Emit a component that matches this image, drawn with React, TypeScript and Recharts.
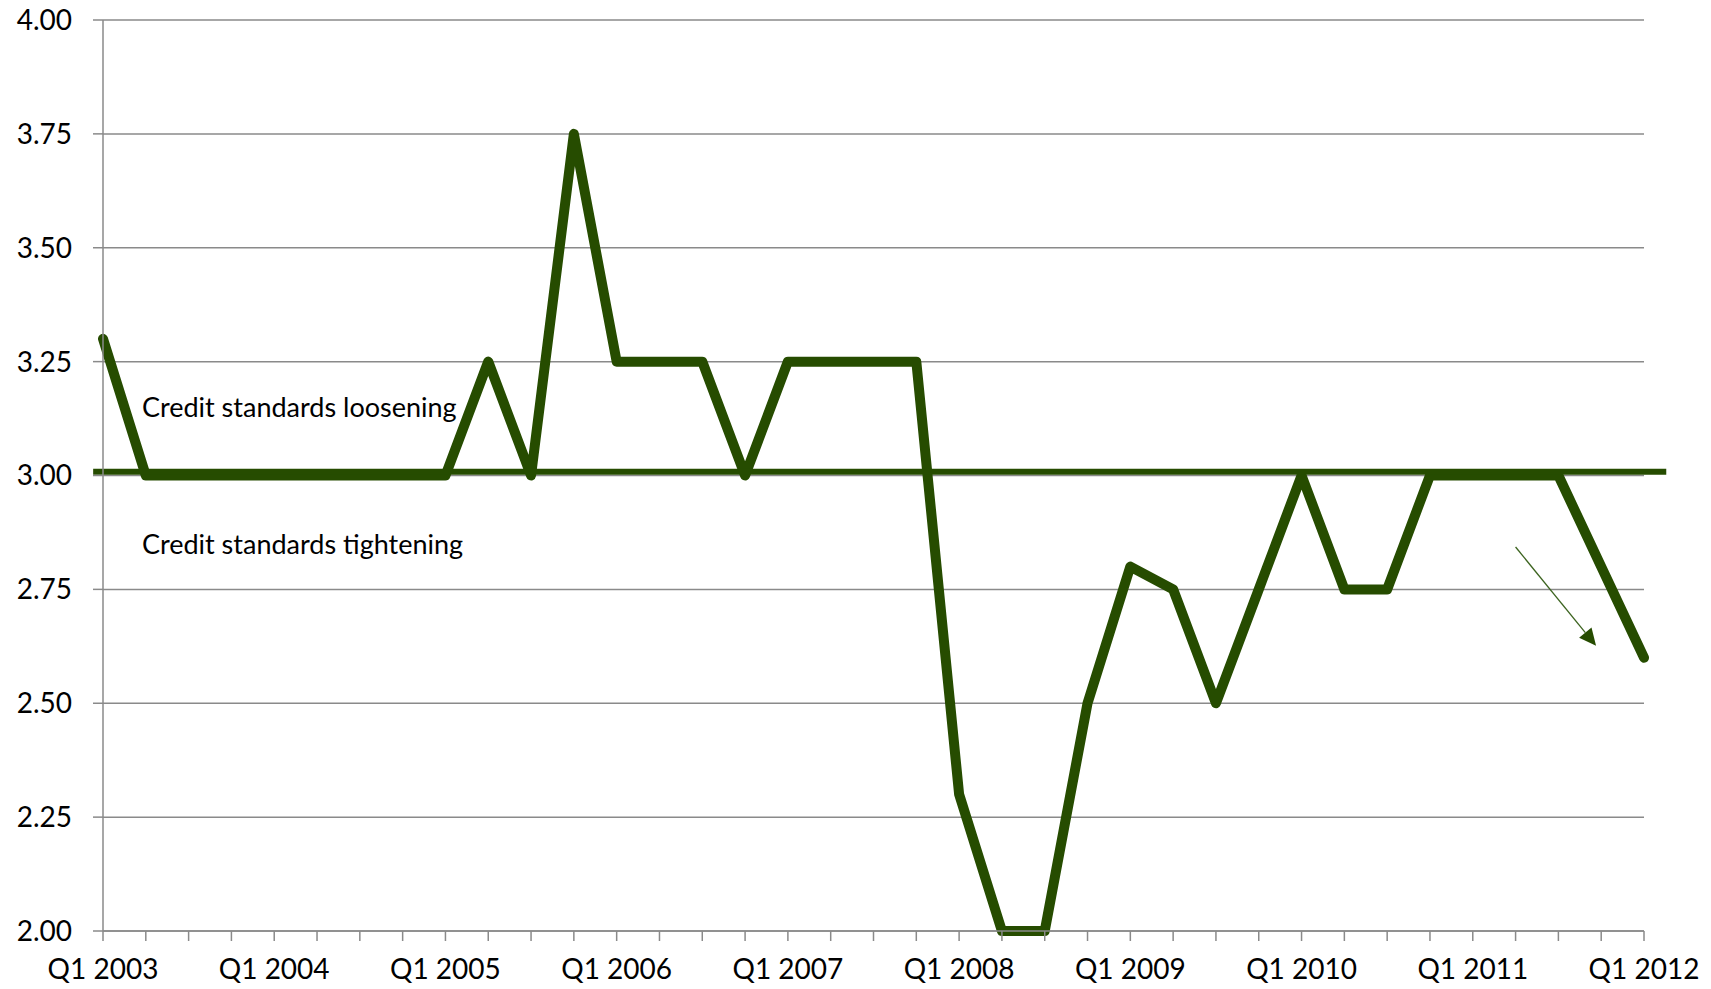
import { LineChart, Line, XAxis, YAxis, CartesianGrid, ReferenceLine, ReferenceDot } from "recharts";

const quarters: string[] = [];
for (let y = 2003; y <= 2012; y++) {
    for (let q = 1; q <= 4; q++) {
        if (y === 2012 && q > 1) break;
        quarters.push(`Q${q} ${y}`);
    }
}

const standards = [
    3.3, 3.0, 3.0, 3.0, 3.0, 3.0, 3.0, 3.0, 3.0, 3.25, 3.0, 3.75,
    3.25, 3.25, 3.25, 3.0, 3.25, 3.25, 3.25, 3.25, 2.3, 2.0, 2.0, 2.5,
    2.8, 2.75, 2.5, 2.75, 3.0, 2.75, 2.75, 3.0, 3.0, 3.0, 3.0, 2.8, 2.6,
];

const yTicks = [2.0, 2.25, 2.5, 2.75, 3.0, 3.25, 3.5, 3.75, 4.0];

const neutralLevel = 3.008;
const neutralSpan = [-0.23, 36.52];
const trendArrow = [
    { x: 33, y: 2.843 },
    { x: 34.88, y: 2.626 },
];
const notes = [
    { x: 0.91, y: 3.128, text: "Credit standards loosening" },
    { x: 0.91, y: 2.828, text: "Credit standards tightening" },
];

const data = quarters.map((q, i) => ({ idx: i, quarter: q, value: standards[i] }));

const GREEN = "#264c00";
const GREY = "#8a8a8a";
const FONT = "Lato, 'Open Sans', sans-serif";

const XTick = ({ x, y, payload }: any) => {
    const label = quarters[payload.value];
    if (!label || !label.startsWith("Q1")) return <g />;
    return (
        <text x={x} y={y} dy={38} textAnchor="middle" fontSize={28} fontFamily={FONT} fill="#000">
            {label}
        </text>
    );
};

const Arrow = (props: any) => {
    const { x1, y1, x2, y2 } = props;
    const ang = Math.atan2(y2 - y1, x2 - x1);
    const len = 17;
    const half = 8;
    const bx = x2 - len * Math.cos(ang);
    const by = y2 - len * Math.sin(ang);
    const px = -Math.sin(ang) * half;
    const py = Math.cos(ang) * half;
    return (
        <g>
            <line x1={x1} y1={y1} x2={bx} y2={by} stroke="#3d6420" strokeWidth={1.3} />
            <polygon points={`${x2},${y2} ${bx + px},${by + py} ${bx - px},${by - py}`} fill={GREEN} />
        </g>
    );
};

const NoteLabel = (text: string) => (props: any) => {
    const { viewBox } = props;
    return (
        <text x={viewBox.x} y={viewBox.y} fontSize={27} fontFamily={FONT} fill="#000">
            {text}
        </text>
    );
};

export default function App() {
    return (
        <div style={{ position: "absolute", left: 0, top: 0, background: "#fff" }}>
            <LineChart width={1711} height={989} data={data} margin={{ top: 20, right: 67, left: 0, bottom: 0 }}>
                <CartesianGrid vertical={false} stroke={GREY} strokeWidth={1.5} />
                <XAxis
                    dataKey="idx"
                    type="number"
                    domain={[0, 36]}
                    ticks={quarters.map((_, i) => i)}
                    interval={0}
                    height={58}
                    tickSize={10}
                    tickMargin={0}
                    stroke={GREY}
                    strokeWidth={1.5}
                    tick={<XTick />}
                />
                <YAxis
                    domain={[2, 4]}
                    ticks={yTicks}
                    width={103}
                    tickSize={10}
                    tickMargin={21}
                    stroke={GREY}
                    strokeWidth={1.5}
                    tickFormatter={(v: number) => v.toFixed(2)}
                    tick={{ fontSize: 28, fontFamily: FONT, fill: "#000" }}
                />
                <Line
                    type="linear"
                    dataKey="value"
                    stroke={GREEN}
                    strokeWidth={10}
                    strokeLinejoin="round"
                    strokeLinecap="round"
                    dot={false}
                    activeDot={false}
                    isAnimationActive={false}
                />
                <ReferenceLine
                    segment={[
                        { x: neutralSpan[0], y: neutralLevel },
                        { x: neutralSpan[1], y: neutralLevel },
                    ]}
                    stroke={GREEN}
                    strokeWidth={6}
                    ifOverflow="visible"
                />
                <ReferenceLine segment={trendArrow} ifOverflow="visible" shape={<Arrow />} />
                {notes.map((n) => (
                    <ReferenceDot
                        key={n.text}
                        x={n.x}
                        y={n.y}
                        r={0}
                        fill="none"
                        stroke="none"
                        ifOverflow="visible"
                        label={NoteLabel(n.text)}
                    />
                ))}
            </LineChart>
        </div>
    );
}
